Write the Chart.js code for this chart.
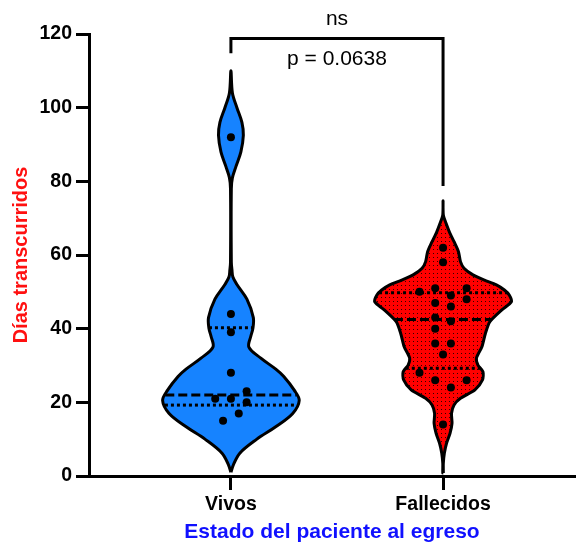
<!DOCTYPE html>
<html>
<head>
<meta charset="utf-8">
<script src="https://cdn.jsdelivr.net/npm/chart.js@4.4.1/dist/chart.umd.min.js"></script>
<style>
  html, body { margin: 0; padding: 0; background: #fff; }
  #wrap { width: 579px; height: 546px; }
</style>
</head>
<body>
<div id="wrap"><canvas id="chartViolin" width="579" height="546"></canvas></div>
<script>
// Grupos (eje X, posiciones 1 y 2)
const grupos = ['Vivos', 'Fallecidos'];

// Días transcurridos por paciente
const diasVivos = [92, 44, 39, 28, 23, 21, 21, 20, 17, 15];
const diasFallecidos = [62, 58, 51, 51, 50, 49, 48, 47, 46, 43, 42, 40, 36, 36, 33, 28, 26, 26, 24, 14];

// Columna de cada punto (en medios puntos desde el centro)
const columnaVivos = [0, 0, 0, 0, 2, -2, 0, 2, 1, -1];
const columnaFallecidos = [0, 0, -1, 3, -3, 1, 3, -1, 1, -1, 1, -1, -1, 1, 0, -3, -1, 3, 1, 0];

// Q1, mediana, Q3
const cuartilesVivos = [19.25, 22, 40.25];
const cuartilesFallecidos = [29.25, 42.5, 49.75];

// Perfil de densidad del violín: niveles (días) y ancho relativo
const nivelesVivos = [1, 3, 6.2, 10, 13.3, 17, 20.5, 23.3, 27, 29, 32, 35, 38, 40, 43, 48, 52, 54, 56, 58, 78, 81, 84, 88, 92.5, 96, 100, 104, 110];
const densidadVivos = [0, 0.036, 0.13, 0.38, 0.65, 0.905, 1, 0.927, 0.774, 0.657, 0.438, 0.263, 0.292, 0.321, 0.328, 0.234, 0.088, 0.029, 0.015, 0.006, 0.006, 0.022, 0.073, 0.146, 0.182, 0.161, 0.088, 0.022, 0];
const nivelesFallecidos = [0.8, 3.5, 6.2, 8.9, 11.6, 14.3, 17, 19.3, 21.1, 23.4, 26.1, 28.3, 30.1, 32, 35.1, 38.7, 41.9, 45.1, 47.3, 49.1, 50.5, 51.9, 53.2, 54.6, 56.4, 58.2, 60.9, 63.6, 66.3, 68.6, 70.9, 74.7];
const densidadFallecidos = [0.004, 0.004, 0.019, 0.051, 0.102, 0.131, 0.124, 0.161, 0.255, 0.467, 0.577, 0.584, 0.511, 0.489, 0.569, 0.62, 0.686, 0.861, 1, 0.971, 0.898, 0.781, 0.606, 0.438, 0.307, 0.255, 0.226, 0.161, 0.092, 0.044, 0.004, 0];

// Comparación entre grupos
const textoSignif = 'ns';
const textoP = 'p = 0.0638';
const corchete = { arriba: 118.8, pataIzq: 114.8, pataDer: 78.7, nivelNs: 122.5, nivelP: 111.6 };

const ANCHO_VIOLIN = 0.322;   // semiancho máximo en unidades del eje X
const PASO_PUNTO = 0.037;     // medio punto en unidades del eje X
const FUENTE = '"Liberation Sans", Arial, sans-serif';

Chart.defaults.font.family = FUENTE;
Chart.defaults.color = '#000';

const canvas = document.getElementById('chartViolin');
const ctx = canvas.getContext('2d');

// relleno rojo con trama de puntos
function tramaPuntos(fondo, punto) {
    const c = document.createElement('canvas');
    c.width = 4; c.height = 4;
    const g = c.getContext('2d');
    g.fillStyle = fondo;
    g.fillRect(0, 0, 4, 4);
    g.fillStyle = punto;
    g.fillRect(1, 1, 1, 1);
    return ctx.createPattern(c, 'repeat');
}

function contorno(centro, niveles, dens) {
    const der = niveles.map((y, i) => ({ x: centro + dens[i] * ANCHO_VIOLIN, y }));
    const izq = niveles.map((y, i) => ({ x: centro - dens[i] * ANCHO_VIOLIN, y })).reverse();
    return der.concat(izq.slice(1), [der[0]]);
}

function densidadEn(nivel, niveles, dens) {
    for (let i = 1; i < niveles.length; i++) {
        if (nivel <= niveles[i]) {
            const t = (nivel - niveles[i - 1]) / (niveles[i] - niveles[i - 1]);
            return dens[i - 1] + t * (dens[i] - dens[i - 1]);
        }
    }
    return 0;
}

function lineaCuartil(centro, nivel, niveles, dens, dash) {
    const w = densidadEn(nivel, niveles, dens) * ANCHO_VIOLIN;
    return {
        data: [{ x: centro - w, y: nivel }, { x: centro + w, y: nivel }],
        borderColor: '#000',
        borderWidth: 3,
        borderDash: dash,
        borderCapStyle: 'butt',
        pointRadius: 0,
        fill: false,
        tension: 0,
        order: 1
    };
}

function violin(centro, niveles, dens, relleno, tension) {
    return {
        data: contorno(centro, niveles, dens),
        borderColor: '#000',
        borderWidth: 3,
        backgroundColor: relleno,
        fill: 'shape',
        tension: tension,
        pointRadius: 0,
        order: 3
    };
}

function puntos(centro, dias, columnas) {
    return {
        data: dias.map((d, i) => ({ x: centro + columnas[i] * PASO_PUNTO, y: d })),
        showLine: false,
        pointRadius: 4,
        pointBackgroundColor: '#000',
        pointBorderWidth: 0,
        order: 0
    };
}

const datasets = [
    puntos(1, diasVivos, columnaVivos),
    puntos(2, diasFallecidos, columnaFallecidos),
    violin(1, nivelesVivos, densidadVivos, '#1683ff', 0.35),
    violin(2, nivelesFallecidos, densidadFallecidos, tramaPuntos('#ff0000', '#300000'), 0.25),
    {
        data: [
            { x: 1, y: corchete.pataIzq }, { x: 1, y: corchete.arriba },
            { x: 2, y: corchete.arriba }, { x: 2, y: corchete.pataDer }
        ],
        borderColor: '#000',
        borderWidth: 3,
        borderJoinStyle: 'miter',
        pointRadius: 0,
        fill: false,
        tension: 0,
        order: 1
    }
];

[[1, cuartilesVivos, nivelesVivos, densidadVivos], [2, cuartilesFallecidos, nivelesFallecidos, densidadFallecidos]]
    .forEach(([c, q, niv, den]) => {
        datasets.push(lineaCuartil(c, q[0], niv, den, [3, 3]));
        datasets.push(lineaCuartil(c, q[1], niv, den, [9, 4]));
        datasets.push(lineaCuartil(c, q[2], niv, den, [3, 3]));
    });

// textos de la comparación
const etiquetasComparacion = {
    id: 'etiquetasComparacion',
    afterDraw(chart) {
        const { ctx, scales: { x, y } } = chart;
        const cx = x.getPixelForValue(1.5);
        ctx.save();
        ctx.fillStyle = '#000';
        ctx.textAlign = 'center';
        ctx.textBaseline = 'alphabetic';
        ctx.font = '21px ' + FUENTE;
        ctx.fillText(textoSignif, cx, y.getPixelForValue(corchete.nivelNs));
        ctx.fillText(textoP, cx, y.getPixelForValue(corchete.nivelP));
        ctx.restore();
    }
};

new Chart(ctx, {
    type: 'line',
    data: { datasets },
    options: {
        responsive: false,
        animation: false,
        events: [],
        layout: { padding: { top: 34, right: 2, left: 0, bottom: 0 } },
        plugins: {
            legend: { display: false },
            tooltip: { enabled: false }
        },
        scales: {
            x: {
                type: 'linear',
                min: 0.331,
                max: 2.622,
                afterBuildTicks: (scale) => {
                    scale.ticks = grupos.map((g, i) => ({ value: i + 1 }));
                },
                afterFit: (scale) => { scale.height = 70; },
                ticks: {
                    autoSkip: false,
                    maxRotation: 0,
                    padding: 3,
                    font: { size: 19.5, weight: 'bold' },
                    callback: (v) => grupos[v - 1]
                },
                grid: {
                    drawOnChartArea: false,
                    tickLength: 14,
                    tickWidth: 3,
                    tickColor: '#000'
                },
                border: { display: true, width: 3, color: '#000' },
                title: {
                    display: true,
                    text: 'Estado del paciente al egreso',
                    color: '#1010ff',
                    font: { size: 21, weight: 'bold' },
                    padding: { top: 0, bottom: 1 }
                }
            },
            y: {
                min: 0,
                max: 120,
                afterFit: (scale) => { scale.width = 89; },
                ticks: {
                    stepSize: 20,
                    padding: 4,
                    font: { size: 19.5, weight: 'bold' }
                },
                grid: {
                    drawOnChartArea: false,
                    tickLength: 13,
                    tickWidth: 3,
                    tickColor: '#000'
                },
                border: { display: true, width: 3, color: '#000' },
                title: {
                    display: true,
                    text: 'Días transcurridos',
                    color: '#ff1010',
                    font: { size: 20, weight: 'bold' },
                    padding: { top: 9, bottom: 0 }
                }
            }
        }
    },
    plugins: [etiquetasComparacion]
});
</script>
</body>
</html>
